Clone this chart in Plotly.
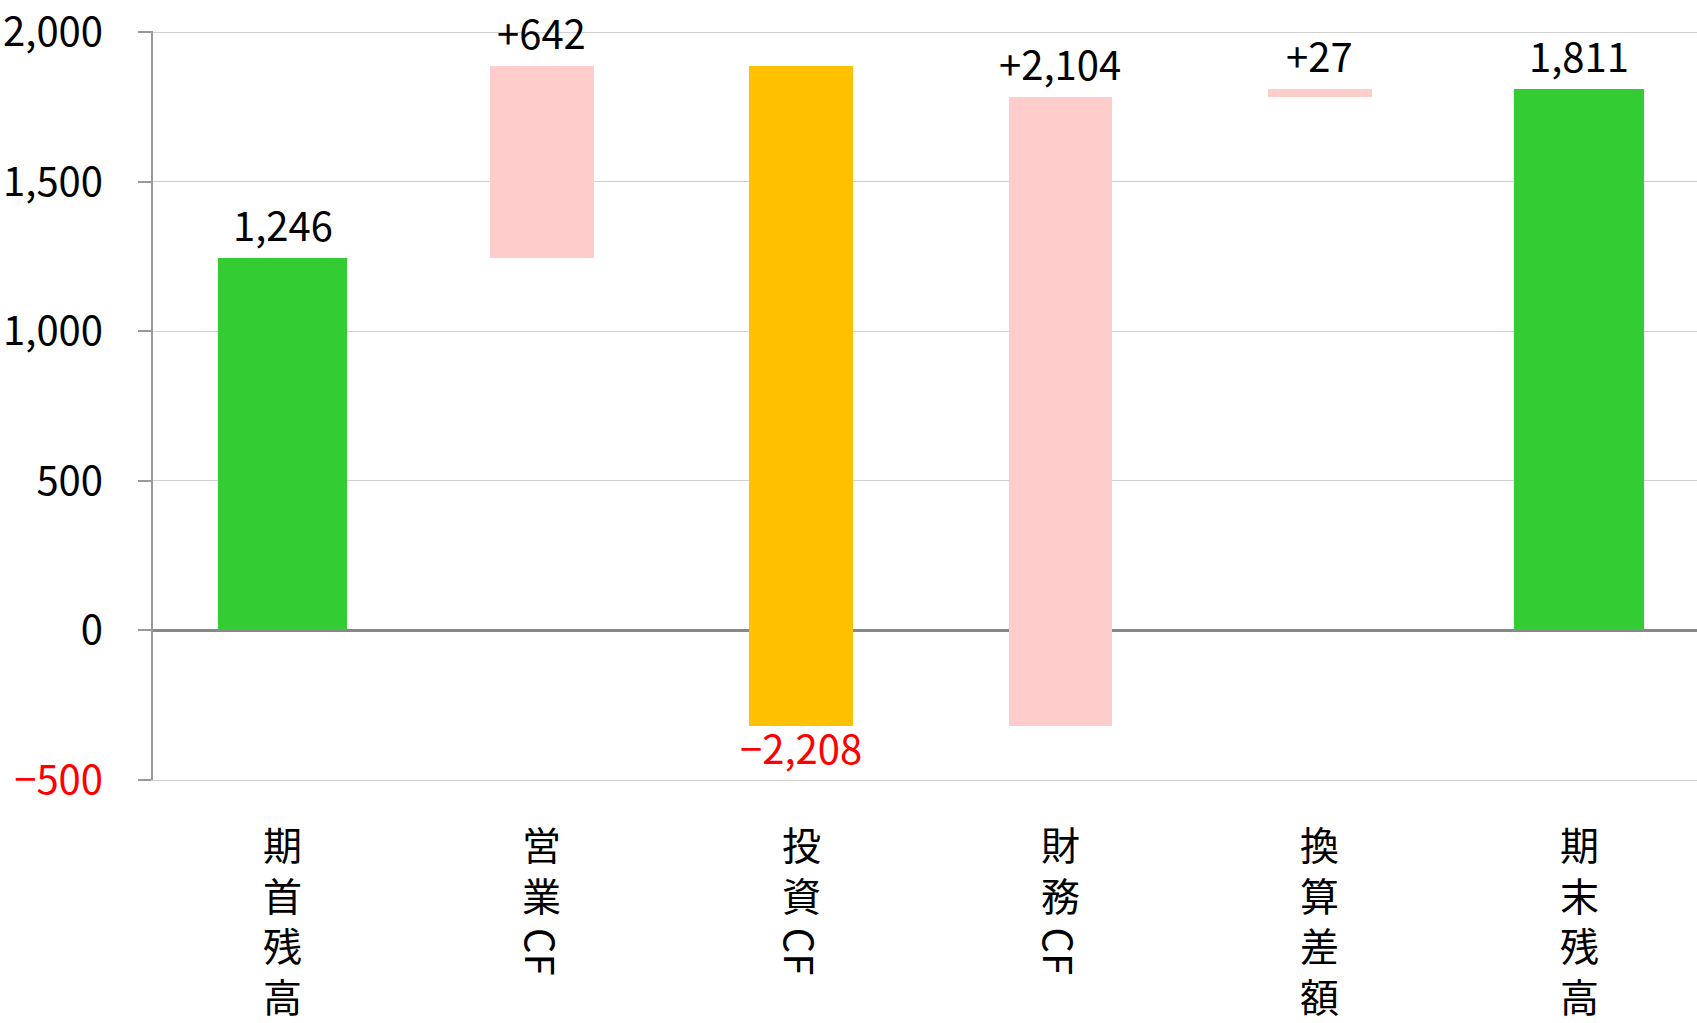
import plotly.graph_objects as go

categories = ["期首残高", "営業CF", "投資CF", "財務CF", "換算差額", "期末残高"]
changes = [1246, 642, -2208, 2104, 27, 1811]
kinds = ["total", "delta", "delta", "delta", "delta", "total"]
y_ticks = [-500, 0, 500, 1000, 1500, 2000]
y_tick_labels = ["<span style='color:#FF0000'>−500</span>", "0", "500", "1,000", "1,500", "2,000"]

GREEN = "#33CC33"
PINK = "#FFCCCC"
ORANGE = "#FFC000"
FONT = "Noto Sans CJK JP"

bases, values, colors, widths, texts, tcolors = [], [], [], [], [], []
running = 0
for k, v in zip(kinds, changes):
    if k == "total":
        bases.append(0)
        values.append(v)
        running = v
        colors.append(GREEN)
        widths.append(0.5)
        texts.append(f"{v:,}")
        tcolors.append("black")
    else:
        bases.append(running)
        values.append(v)
        running += v
        colors.append(PINK if v >= 0 else ORANGE)
        widths.append(0.4)
        texts.append(f"+{v:,}" if v >= 0 else f"−{abs(v):,}")
        tcolors.append("black" if v >= 0 else "#FF0000")

xs = list(range(len(categories)))

fig = go.Figure(go.Bar(
    x=xs, y=values, base=bases, width=widths,
    marker=dict(color=colors, line=dict(width=0)),
    cliponaxis=False, hoverinfo="skip",
))

annotations = []
# data labels
for i in xs:
    end = bases[i] + values[i]
    up = values[i] >= 0
    annotations.append(dict(x=i, y=end, xref="x", yref="y", text=texts[i], showarrow=False,
                            font=dict(family=FONT, size=40, color=tcolors[i]),
                            xanchor="center", yanchor="middle",
                            yshift=34 if up else -21))

# vertical category labels
plot_top, plot_bottom = 28, 780
def paper_y(py):
    return (plot_bottom - py) / (plot_bottom - plot_top)

CJK_SIZE = 39
PITCH = CJK_SIZE * 1.3
for i, lab in enumerate(categories):
    first_center = 844
    j = 0
    cjk = ""
    while j < len(lab) and ord(lab[j]) >= 128:
        cjk += lab[j]
        j += 1
    rest = lab[j:]
    n = len(cjk)
    annotations.append(dict(x=i, y=paper_y(first_center + (n - 1) / 2 * PITCH), xref="x", yref="paper",
                            text="<br>".join(cjk), showarrow=False,
                            font=dict(family=FONT, size=CJK_SIZE, color="black"),
                            xanchor="center", yanchor="middle"))
    if rest:
        start = first_center + (n - 0.5) * PITCH
        length = 28.5 * len(rest)
        annotations.append(dict(x=i, y=paper_y(start + length / 2 + 4), xref="x", yref="paper",
                                text=rest, showarrow=False, textangle=90,
                                font=dict(family=FONT, size=40, color="black"),
                                xanchor="center", yanchor="middle"))

fig.update_layout(
    width=1697, height=1023,
    margin=dict(l=153, r=0, t=plot_top, b=1023 - plot_bottom, pad=0),
    plot_bgcolor="white", paper_bgcolor="white",
    showlegend=False, bargap=0,
    font=dict(family=FONT, size=40, color="black"),
    annotations=annotations,
)
fig.update_xaxes(range=[-0.5, 5.455], showticklabels=False, showgrid=False,
                 showline=True, linecolor="#CCCCCC", linewidth=1, ticks="", zeroline=False)
fig.update_yaxes(range=[-500, 2004], tickvals=y_ticks, ticktext=y_tick_labels,
                 showgrid=True, gridcolor="#D0D0D0", gridwidth=1,
                 zeroline=True, zerolinecolor="#888888", zerolinewidth=3,
                 showline=True, linecolor="#999999", linewidth=2,
                 ticks="outside", ticklen=13, tickwidth=2, tickcolor="#999999",
                 ticklabelstandoff=27, ticklabeloverflow="allow",
                 tickfont=dict(family=FONT, size=40, color="black"))

fig.write_html("out.html", config={"displayModeBar": False},
               post_script="document.body.style.margin='0';")
